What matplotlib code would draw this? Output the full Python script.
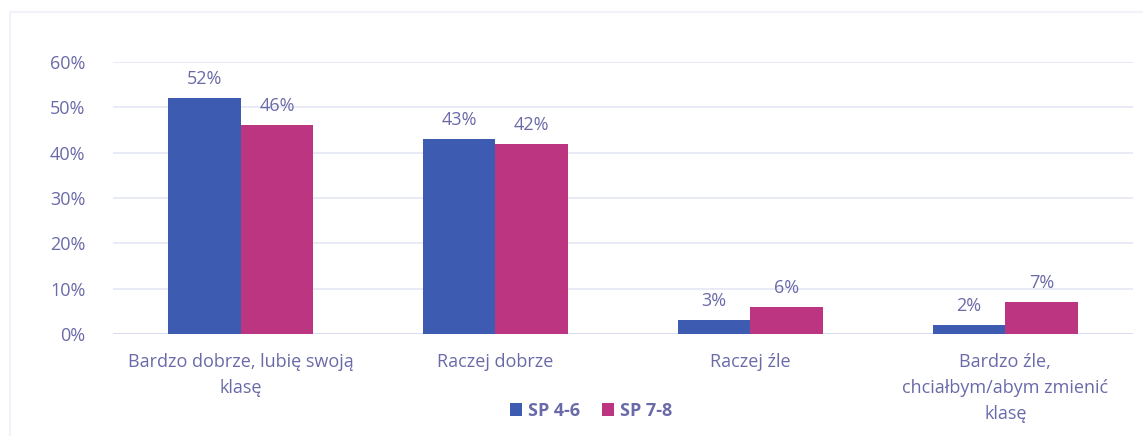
import matplotlib
matplotlib.use("Agg")
import matplotlib.pyplot as plt
import numpy as np
from matplotlib.ticker import FuncFormatter

categories = ["Bardzo dobrze, lubię swoją\nklasę", "Raczej dobrze", "Raczej źle",
              "Bardzo źle,\nchciałbym/abym zmienić\nklasę"]
sp_4_6 = [0.52, 0.43, 0.03, 0.02]
sp_7_8 = [0.46, 0.42, 0.06, 0.07]
series_names = ["SP 4-6", "SP 7-8"]

blue = "#3d5bb0"
pink = "#bb3580"
text_col = "#6b6aa8"
grid_col = "#e4e6f4"
fs = 13

plt.rcParams["font.family"] = ["Open Sans", "DejaVu Sans"]

fig = plt.figure(figsize=(11.43, 4.36), dpi=100)
ax = fig.add_axes([0.099, 0.234, 0.892, 0.624])

x = np.arange(len(categories))
w = 0.285
ax.bar(x - w / 2, sp_4_6, w, color=blue, label=series_names[0], zorder=3)
ax.bar(x + w / 2, sp_7_8, w, color=pink, label=series_names[1], zorder=3)

for xi, v in zip(x, sp_4_6):
    ax.text(xi - w / 2, v + 0.022, f"{v * 100:.0f}%", ha="center", va="bottom",
            color=text_col, fontsize=fs)
for xi, v in zip(x, sp_7_8):
    ax.text(xi + w / 2, v + 0.022, f"{v * 100:.0f}%", ha="center", va="bottom",
            color=text_col, fontsize=fs)

ax.set_ylim(0, 0.6)
ax.set_xlim(-0.5, len(categories) - 0.5)
ax.set_yticks(np.arange(0, 0.61, 0.1))
ax.yaxis.set_major_formatter(FuncFormatter(lambda v, _: f"{v * 100:.0f}%"))
ax.set_xticks(x)
ax.set_xticklabels(categories, linespacing=1.55)
ax.tick_params(axis="both", length=0, colors=text_col, labelsize=fs)
ax.tick_params(axis="y", pad=20)
ax.tick_params(axis="x", pad=14)
ax.grid(axis="y", color=grid_col, linewidth=1.2, zorder=0)
for s in ax.spines.values():
    s.set_visible(False)
ax.axhline(0, color="#d8dbee", linewidth=1.2, zorder=2)

leg = fig.legend(loc="center", bbox_to_anchor=(0.517, 0.058), ncol=2, frameon=False,
                 handlelength=0.7, handleheight=0.7, handletextpad=0.3,
                 columnspacing=1.2, prop={"weight": "bold", "size": fs})
for t in leg.get_texts():
    t.set_color(text_col)

# faint chart-area border as in the scanned original
fig.patches.append(plt.Rectangle((0.009, -0.05), 1.2, 1.022, transform=fig.transFigure,
                                 fill=False, edgecolor="#f2f3fa", linewidth=1.5))

fig.savefig("out.png", dpi=100)
